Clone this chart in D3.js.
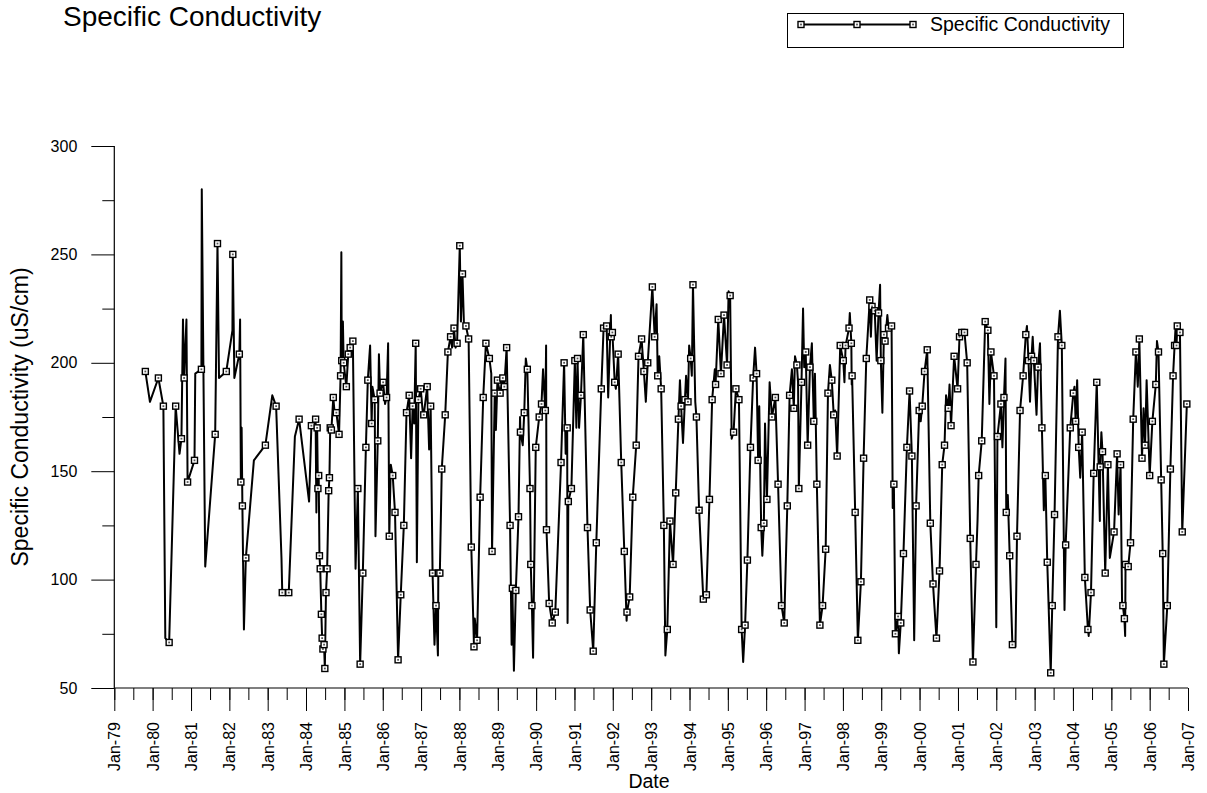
<!DOCTYPE html>
<html><head><meta charset="utf-8">
<script src="https://cdn.jsdelivr.net/npm/d3@7"></script>
<style>
body{margin:0;background:#fff}
svg{display:block}
text{font-family:"Liberation Sans",Arial,Helvetica,sans-serif;fill:#000}
</style>
</head><body>
<svg id="chart" width="1207" height="793"></svg>
<script>
// ---- DATA (decimal years, uS/cm, marker flag) ----
const dates = [
 1979.81,1979.93,1980.15,1980.28,1980.33,1980.43,1980.60,1980.70,1980.75,1980.79,1980.82,1980.88,1980.91,
 1981.09,1981.11,1981.27,1981.28,1981.37,1981.63,1981.69,1981.73,1981.92,
 1982.08,1982.09,1982.13,1982.26,1982.28,1982.30,1982.32,1982.34,1982.38,1982.43,1982.64,1982.94,
 1983.12,1983.22,1983.36,1983.38,1983.55,1983.71,1983.82,
 1984.08,1984.14,1984.25,1984.27,1984.29,1984.31,1984.33,1984.35,1984.37,1984.40,1984.42,1984.44,1984.47,1984.49,1984.52,1984.55,1984.59,1984.61,1984.63,1984.66,1984.71,1984.74,1984.79,1984.86,1984.90,1984.92,1984.93,1984.96,1984.98,
 1985.05,1985.10,1985.15,1985.22,1985.29,1985.35,1985.41,1985.48,1985.56,1985.61,1985.67,1985.71,1985.73,1985.79,1985.81,1985.87,1985.90,1985.93,
 1986.01,1986.06,1986.10,1986.14,1986.17,1986.21,1986.26,1986.32,1986.40,1986.47,1986.55,1986.62,1986.69,1986.74,1986.78,1986.82,1986.86,1986.89,1986.93,1986.99,
 1987.04,1987.07,1987.16,1987.21,1987.25,1987.30,1987.35,1987.39,1987.44,1987.45,1987.49,1987.54,1987.63,1987.70,1987.77,1987.81,1987.86,1987.90,1987.94,
 1988.01,1988.04,1988.08,1988.12,1988.17,1988.24,1988.31,1988.38,1988.40,1988.46,1988.54,1988.62,1988.69,1988.78,1988.83,1988.85,1988.92,1988.95,1988.99,
 1989.06,1989.13,1989.17,1989.23,1989.32,1989.36,1989.38,1989.42,1989.47,1989.54,1989.58,1989.59,1989.65,1989.69,1989.73,1989.77,1989.84,1989.86,1989.89,1989.92,1989.99,
 1990.08,1990.14,1990.18,1990.24,1990.26,1990.27,1990.34,1990.42,1990.50,1990.65,1990.73,1990.77,1990.81,1990.82,1990.84,1990.92,
 1991.01,1991.05,1991.08,1991.12,1991.17,1991.23,1991.34,1991.41,1991.49,1991.57,1991.70,1991.76,1991.84,1991.88,1991.95,1991.96,1991.99,
 1992.05,1992.08,1992.14,1992.22,1992.30,1992.36,1992.37,1992.44,1992.52,1992.61,1992.67,1992.75,1992.81,1992.86,1992.91,
 1993.03,1993.09,1993.14,1993.17,1993.21,1993.26,1993.33,1993.37,1993.42,1993.49,1993.57,1993.64,1993.71,1993.75,1993.78,1993.83,1993.88,1993.91,1993.96,1993.99,
 1994.03,1994.06,1994.09,1994.15,1994.18,1994.25,1994.36,1994.44,1994.52,1994.59,1994.66,1994.68,1994.75,1994.82,1994.90,1994.98,
 1995.02,1995.06,1995.10,1995.15,1995.21,1995.29,1995.36,1995.40,1995.45,1995.51,1995.59,1995.66,1995.71,1995.75,1995.79,1995.82,1995.87,1995.90,1995.94,1995.97,
 1996.02,1996.09,1996.15,1996.24,1996.31,1996.40,1996.47,1996.55,1996.61,1996.67,1996.72,1996.75,1996.80,1996.83,1996.85,1996.92,1996.96,1996.99,
 1997.03,1997.08,1997.14,1997.19,1997.24,1997.27,1997.32,1997.40,1997.47,1997.55,1997.61,1997.66,1997.71,1997.76,1997.80,1997.85,1997.93,
 1998.01,1998.04,1998.07,1998.16,1998.18,1998.22,1998.23,1998.24,1998.32,1998.39,1998.47,1998.54,1998.61,1998.70,1998.73,1998.76,1998.83,1998.88,1998.93,1998.97,1998.99,
 1999.03,1999.07,1999.10,1999.16,1999.19,1999.27,1999.30,1999.33,1999.37,1999.44,1999.46,1999.51,1999.58,1999.67,1999.74,1999.80,1999.86,1999.91,1999.99,
 2000.03,2000.07,2000.13,2000.20,2000.28,2000.35,2000.44,2000.52,2000.59,2000.65,2000.69,2000.75,2000.78,2000.82,2000.90,2000.99,
 2001.04,2001.10,2001.17,2001.24,2001.32,2001.39,2001.47,2001.51,2001.54,2001.62,2001.71,2001.78,2001.82,2001.86,2001.94,
 2002.00,2002.03,2002.12,2002.16,2002.20,2002.24,2002.26,2002.30,2002.35,2002.42,2002.50,2002.54,2002.62,2002.70,2002.77,2002.80,2002.84,2002.88,2002.92,2002.95,2002.98,
 2003.05,2003.09,2003.14,2003.19,2003.24,2003.28,2003.33,2003.42,2003.46,2003.52,2003.61,2003.66,2003.71,2003.78,2003.81,2003.93,
 2004.01,2004.04,2004.07,2004.11,2004.15,2004.19,2004.24,2004.31,2004.39,2004.41,2004.47,2004.54,2004.62,2004.70,2004.71,2004.74,2004.77,2004.84,2004.91,2004.96,
 2005.07,2005.15,2005.19,2005.24,2005.28,2005.30,2005.34,2005.36,2005.37,2005.44,2005.50,2005.57,2005.64,2005.69,2005.73,2005.80,2005.84,2005.88,2005.92,
 2006.00,2006.07,2006.16,2006.19,2006.23,2006.30,2006.34,2006.37,2006.46,2006.54,2006.61,2006.65,2006.68,2006.70,2006.72,2006.79,2006.85,2006.97
];
const values = [
 196,182,193,180,73,71,180,158,165,220,193,220,145,
 155,195,197,280,106,167,255,193,196,
 215,250,193,204,220,145,170,134,77,110,155,162,
 185,180,110,94,94,166,174,
 136,171,174,131,170,142,148,111,105,84,73,68,70,59,94,105,141,147,170,169,184,178,177,167,194,251,201,219,200,
 189,204,207,210,105,142,61,103,161,192,208,172,189,183,120,164,204,186,
 191,181,184,209,120,153,148,131,63,93,125,177,185,156,180,172,209,108,183,188,
 178,176,189,160,180,103,70,88,65,103,103,151,176,205,212,207,216,207,209,
 254,219,241,217,217,211,115,69,82,72,138,184,209,202,195,113,186,169,192,
 186,193,189,207,125,70,96,58,95,129,175,168,162,177,202,197,142,107,88,64,161,
 175,181,197,178,208,123,89,80,85,154,200,158,170,80,136,142,
 201,170,202,170,185,213,124,86,67,117,188,216,217,184,222,212,214,
 191,188,204,154,113,81,85,92,138,162,203,211,196,182,200,
 235,212,227,194,203,188,125,65,77,127,107,140,174,192,180,163,183,194,182,208,
 202,194,236,182,175,132,91,93,137,183,197,190,220,195,222,199,
 233,231,165,168,188,183,77,62,79,109,161,193,207,195,155,180,124,111,126,172,
 137,191,175,184,144,88,80,134,185,197,179,203,199,191,142,191,225,198,
 205,162,198,209,173,195,144,79,88,114,186,199,192,176,178,157,208,
 201,191,208,216,223,209,190,194,131,72,99,156,202,229,212,226,224,201,223,236,201,
 177,213,210,222,216,217,133,144,75,83,66,80,112,161,187,157,72,134,178,
 173,180,196,206,126,98,73,104,153,162,185,179,190,171,203,188,
 212,214,214,200,119,62,107,127,148,164,219,215,181,205,194,
 78,166,181,161,184,202,131,139,111,70,69,120,178,194,213,217,201,182,203,212,201,
 176,198,209,170,132,148,108,57,88,130,212,224,208,86,116,170,
 186,189,173,192,161,147,168,101,77,74,94,149,191,127,152,168,159,103,153,110,
 122,158,130,153,88,88,82,74,107,106,117,174,205,189,211,156,179,162,192,
 148,173,190,210,205,146,112,61,88,151,194,208,218,208,217,214,122,181
];
const marked = [
 1,0,1,1,0,1,1,0,1,0,1,0,1,
 1,0,1,0,0,1,1,0,1,
 0,1,0,1,0,1,0,1,0,1,0,1,
 0,1,0,1,1,0,1,
 0,1,1,0,1,1,1,1,1,1,1,1,1,1,1,1,1,1,1,1,1,0,1,1,1,0,1,0,1,
 1,1,1,1,0,1,1,1,1,1,0,1,0,1,0,1,0,1,
 1,0,1,0,1,0,1,1,1,1,1,1,1,0,1,0,1,0,1,1,
 0,1,1,0,1,1,0,1,0,1,1,1,1,1,1,0,1,0,1,
 1,0,1,0,1,1,1,1,0,1,1,1,1,1,0,1,1,0,1,
 1,1,1,1,1,0,1,0,1,1,0,1,0,1,0,1,1,1,1,0,1,
 1,1,0,1,0,1,1,1,1,1,1,0,1,0,1,1,
 1,0,1,0,1,1,1,1,1,1,1,1,1,0,0,1,1,
 1,0,1,1,1,0,1,1,1,1,1,1,1,0,1,
 1,1,0,1,0,1,1,0,1,1,1,1,1,0,1,0,1,0,1,0,
 1,0,1,0,1,1,1,1,1,1,0,1,1,1,1,1,
 0,1,0,1,1,1,1,0,1,1,1,1,0,1,1,0,1,0,1,0,
 1,0,1,1,1,1,1,1,1,0,1,0,1,0,1,1,0,0,
 1,1,1,0,1,0,1,1,1,1,1,0,1,1,0,1,1,
 1,0,1,1,0,1,0,1,1,1,1,1,1,1,0,1,1,0,1,0,1,
 0,1,1,0,1,1,0,1,1,1,0,1,1,1,1,1,0,1,1,
 0,1,1,1,1,1,1,1,1,1,0,1,0,1,1,1,
 1,1,1,1,1,1,1,0,1,1,1,1,0,1,1,
 0,1,1,0,1,0,1,0,1,1,0,1,1,1,1,0,1,0,1,0,1,
 0,1,0,1,0,1,1,1,1,1,1,0,1,0,1,1,
 1,0,1,0,1,0,1,1,1,0,1,1,1,0,1,0,1,1,1,0,
 1,1,0,1,0,1,1,0,1,1,1,1,1,0,1,1,0,1,0,
 1,1,1,0,1,1,1,1,1,1,1,1,0,1,1,1,1,1
];
const yTickValues = [50,100,150,200,250,300];
const yMinorValues = [75,125,175,225,275];
const seriesName = "Specific Conductivity";
const titleText = "Specific Conductivity";
const xTitle = "Date";
const yTitle = "Specific Conductivity (uS/cm)";

// ---- helpers ----
function decToDate(d){
  const yr = Math.floor(d);
  const s = new Date(yr,0,1), e = new Date(yr+1,0,1);
  return new Date(+s + (d-yr)*(e-s));
}
const n = Math.min(dates.length, values.length, marked.length);
const data = d3.range(n).map(i => ({date: decToDate(dates[i]), value: values[i], m: marked[i]}));

const svg = d3.select("#chart");
const pLeft = 114.3, pRight = 1188, pTop = 146, pBottom = 688;

const x = d3.scaleTime().domain([new Date(1979,0,1), new Date(2007,0,1)]).range([pLeft, pRight]);
const y = d3.scaleLinear().domain([50,300]).range([pBottom, pTop]);

// title
svg.append("text").attr("x",63).attr("y",26).attr("font-size",28).text(titleText);

// legend
const lg = svg.append("g");
lg.append("rect").attr("x",787.5).attr("y",13.5).attr("width",336).attr("height",34)
  .attr("fill","#fff").attr("stroke","#000").attr("stroke-width",1);
lg.append("line").attr("x1",801).attr("x2",913).attr("y1",24.5).attr("y2",24.5)
  .attr("stroke","#000").attr("stroke-width",2);

function marker(sel){
  sel.append("rect").attr("x",-3).attr("y",-3).attr("width",6).attr("height",6)
    .attr("fill","#fff").attr("stroke","#000").attr("stroke-width",1.4);
  sel.append("rect").attr("x",-0.9).attr("y",-0.9).attr("width",1.8).attr("height",1.8)
    .attr("fill","#555");
}
[801,857,913].forEach(px => marker(lg.append("g").attr("transform",`translate(${px},24.5)`)));
lg.append("text").attr("x",930).attr("y",31).attr("font-size",19.5).text(seriesName);

// axes
const xMinor = svg.append("g").attr("transform",`translate(0,${pBottom})`)
  .call(d3.axisBottom(x).ticks(d3.timeMonth.every(6)).tickSize(12).tickFormat(""));
xMinor.select(".domain").remove();
xMinor.selectAll("line").attr("stroke","#000");

const xAxis = svg.append("g").attr("transform",`translate(0,${pBottom})`)
  .call(d3.axisBottom(x).ticks(d3.timeYear.every(1)).tickSize(23).tickFormat(d3.timeFormat("%b-%y")));
xAxis.select(".domain").attr("stroke","#000").attr("stroke-width",1.2).attr("d",`M${pLeft},0H${pRight}`);
xAxis.selectAll("line").attr("stroke","#000");
xAxis.selectAll("text").attr("font-size",16)
  .attr("transform","rotate(-90)").attr("text-anchor","end")
  .attr("x",-34).attr("y",0).attr("dy","0.35em");
xAxis.attr("font-family",null);

const yMinor = svg.append("g").attr("transform",`translate(${pLeft},0)`)
  .call(d3.axisLeft(y).tickValues(yMinorValues).tickSize(12).tickFormat(""));
yMinor.select(".domain").remove();
yMinor.selectAll("line").attr("stroke","#000");

const yAxis = svg.append("g").attr("transform",`translate(${pLeft},0)`)
  .call(d3.axisLeft(y).tickValues(yTickValues).tickSize(23).tickPadding(14));
yAxis.select(".domain").attr("stroke","#000").attr("stroke-width",1.2).attr("d",`M0,${pTop}V${pBottom}`);
yAxis.selectAll("line").attr("stroke","#000");
yAxis.selectAll("text").attr("font-size",16);
yAxis.attr("font-family",null);

// axis titles
svg.append("text").attr("x",649).attr("y",788).attr("text-anchor","middle")
  .attr("font-size",19.5).text(xTitle);
svg.append("text").attr("transform",`translate(28,${(pTop+pBottom)/2}) rotate(-90)`)
  .attr("text-anchor","middle").attr("font-size",23).text(yTitle);

// series line
const line = d3.line().x(d => x(d.date)).y(d => y(d.value));
svg.append("path").datum(data).attr("d",line).attr("fill","none")
  .attr("stroke","#000").attr("stroke-width",2).attr("stroke-linejoin","round");

// markers
svg.append("g").selectAll("g").data(data.filter(d => d.m)).join("g")
  .attr("transform",d => `translate(${x(d.date)},${y(d.value)})`)
  .each(function(){ marker(d3.select(this)); });

if (dates.length !== values.length || values.length !== marked.length) {
  console.error("length mismatch", dates.length, values.length, marked.length);
}
</script>
</body></html>
